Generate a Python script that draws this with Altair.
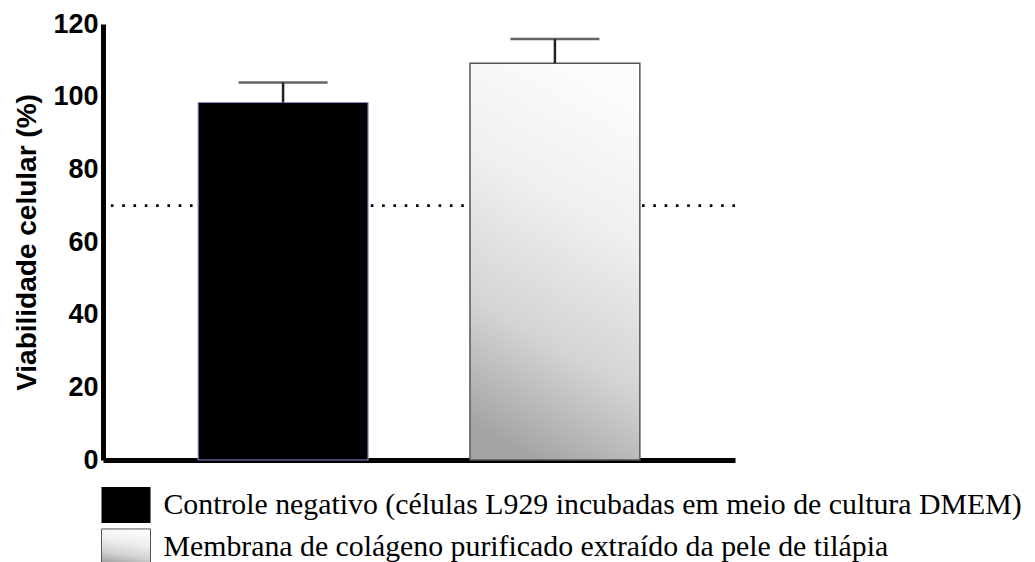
import altair as alt
import pandas as pd

groups = ["Controle negativo", "Membrana de colágeno"]
means = [98.4, 109.2]
errors = [5.5, 6.7]
threshold = [70]
y_ticks = [0, 20, 40, 60, 80, 100, 120]
legend_labels = [
    "Controle negativo (células L929 incubadas em meio de cultura DMEM)",
    "Membrana de colágeno purificado extraído da pele de tilápia",
]

df = pd.DataFrame({
    "group": groups,
    "mean": means,
    "upper": [m + e for m, e in zip(means, errors)],
})
thr = pd.DataFrame({"v": threshold})
leg = pd.DataFrame({"label": legend_labels, "group": groups})

gradient = alt.Gradient(
    gradient="linear",
    x1=0.62, y1=0, x2=0.38, y2=1,
    stops=[
        alt.GradientStop(color="#fcfcfc", offset=0),
        alt.GradientStop(color="#efefef", offset=0.35),
        alt.GradientStop(color="#d4d4d4", offset=0.7),
        alt.GradientStop(color="#a4a4a4", offset=1),
    ],
)

x_enc = alt.X("group:N", sort=groups,
              scale=alt.Scale(paddingInner=0.375, paddingOuter=0.35),
              axis=alt.Axis(title=None, labels=False, ticks=False,
                            domainWidth=5, domainColor="black"))
y_enc = alt.Y("mean:Q",
              scale=alt.Scale(domain=[0, 120], nice=False),
              axis=alt.Axis(title="Viabilidade celular (%)", values=y_ticks,
                            grid=False, ticks=False, labelPadding=5,
                            domainWidth=5, domainColor="black",
                            labelFont="Liberation Sans", labelFontSize=27,
                            labelFontWeight="bold", labelColor="black",
                            titleFont="Liberation Sans", titleFontSize=28,
                            titleFontWeight="bold", titleColor="black",
                            titlePadding=11))

base = alt.Chart(df)

rule = alt.Chart(thr).mark_rule(color="black", strokeWidth=2.6,
                                strokeDash=[2.6, 8.7]).encode(
    y=alt.Y("v:Q", scale=alt.Scale(domain=[0, 120], nice=False))
)

bar_ctrl = base.transform_filter(alt.datum.group == groups[0]).mark_bar(
    color="black", stroke="#8888cc", strokeWidth=1.2
).encode(x=x_enc, y=y_enc)

bar_memb = base.transform_filter(alt.datum.group == groups[1]).mark_bar(
    color=gradient, stroke="#555555", strokeWidth=1.5
).encode(x=x_enc, y=y_enc)

stems = base.mark_rule(color="#222222", strokeWidth=2.5).encode(
    x=alt.X("group:N", sort=groups), y="mean:Q", y2="upper:Q"
)
caps = base.mark_tick(color="#222222", thickness=2.5, size=89).encode(
    x=alt.X("group:N", sort=groups), y="upper:Q"
)

main = alt.layer(rule, bar_ctrl, bar_memb, stems, caps).properties(
    width=632, height=436
)

ly = alt.Y("label:N", sort=legend_labels, axis=None,
           scale=alt.Scale(paddingInner=0.14, paddingOuter=0.07))
leg_base = alt.Chart(leg)
sw1 = leg_base.transform_filter(alt.datum.group == groups[0]).mark_rect(
    color="black"
).encode(y=ly, x=alt.value(-1.5), x2=alt.value(47.5))
sw2 = leg_base.transform_filter(alt.datum.group == groups[1]).mark_rect(
    color=gradient, stroke="#555555", strokeWidth=1
).encode(y=ly, x=alt.value(-1.5), x2=alt.value(47.5))
txt = leg_base.mark_text(align="left", baseline="middle",
                         font="Liberation Serif", fontSize=29.8,
                         color="black").encode(
    y=ly, x=alt.value(60.5), text="label:N"
)
legend = alt.layer(sw1, sw2, txt).properties(width=632, height=84)

chart = alt.vconcat(main, legend, spacing=11).properties(
    padding={"left": 5, "top": 2, "right": 0, "bottom": 0}
).configure_view(stroke=None)

chart.save("out.html", embed_options={"renderer": "svg", "actions": False})
